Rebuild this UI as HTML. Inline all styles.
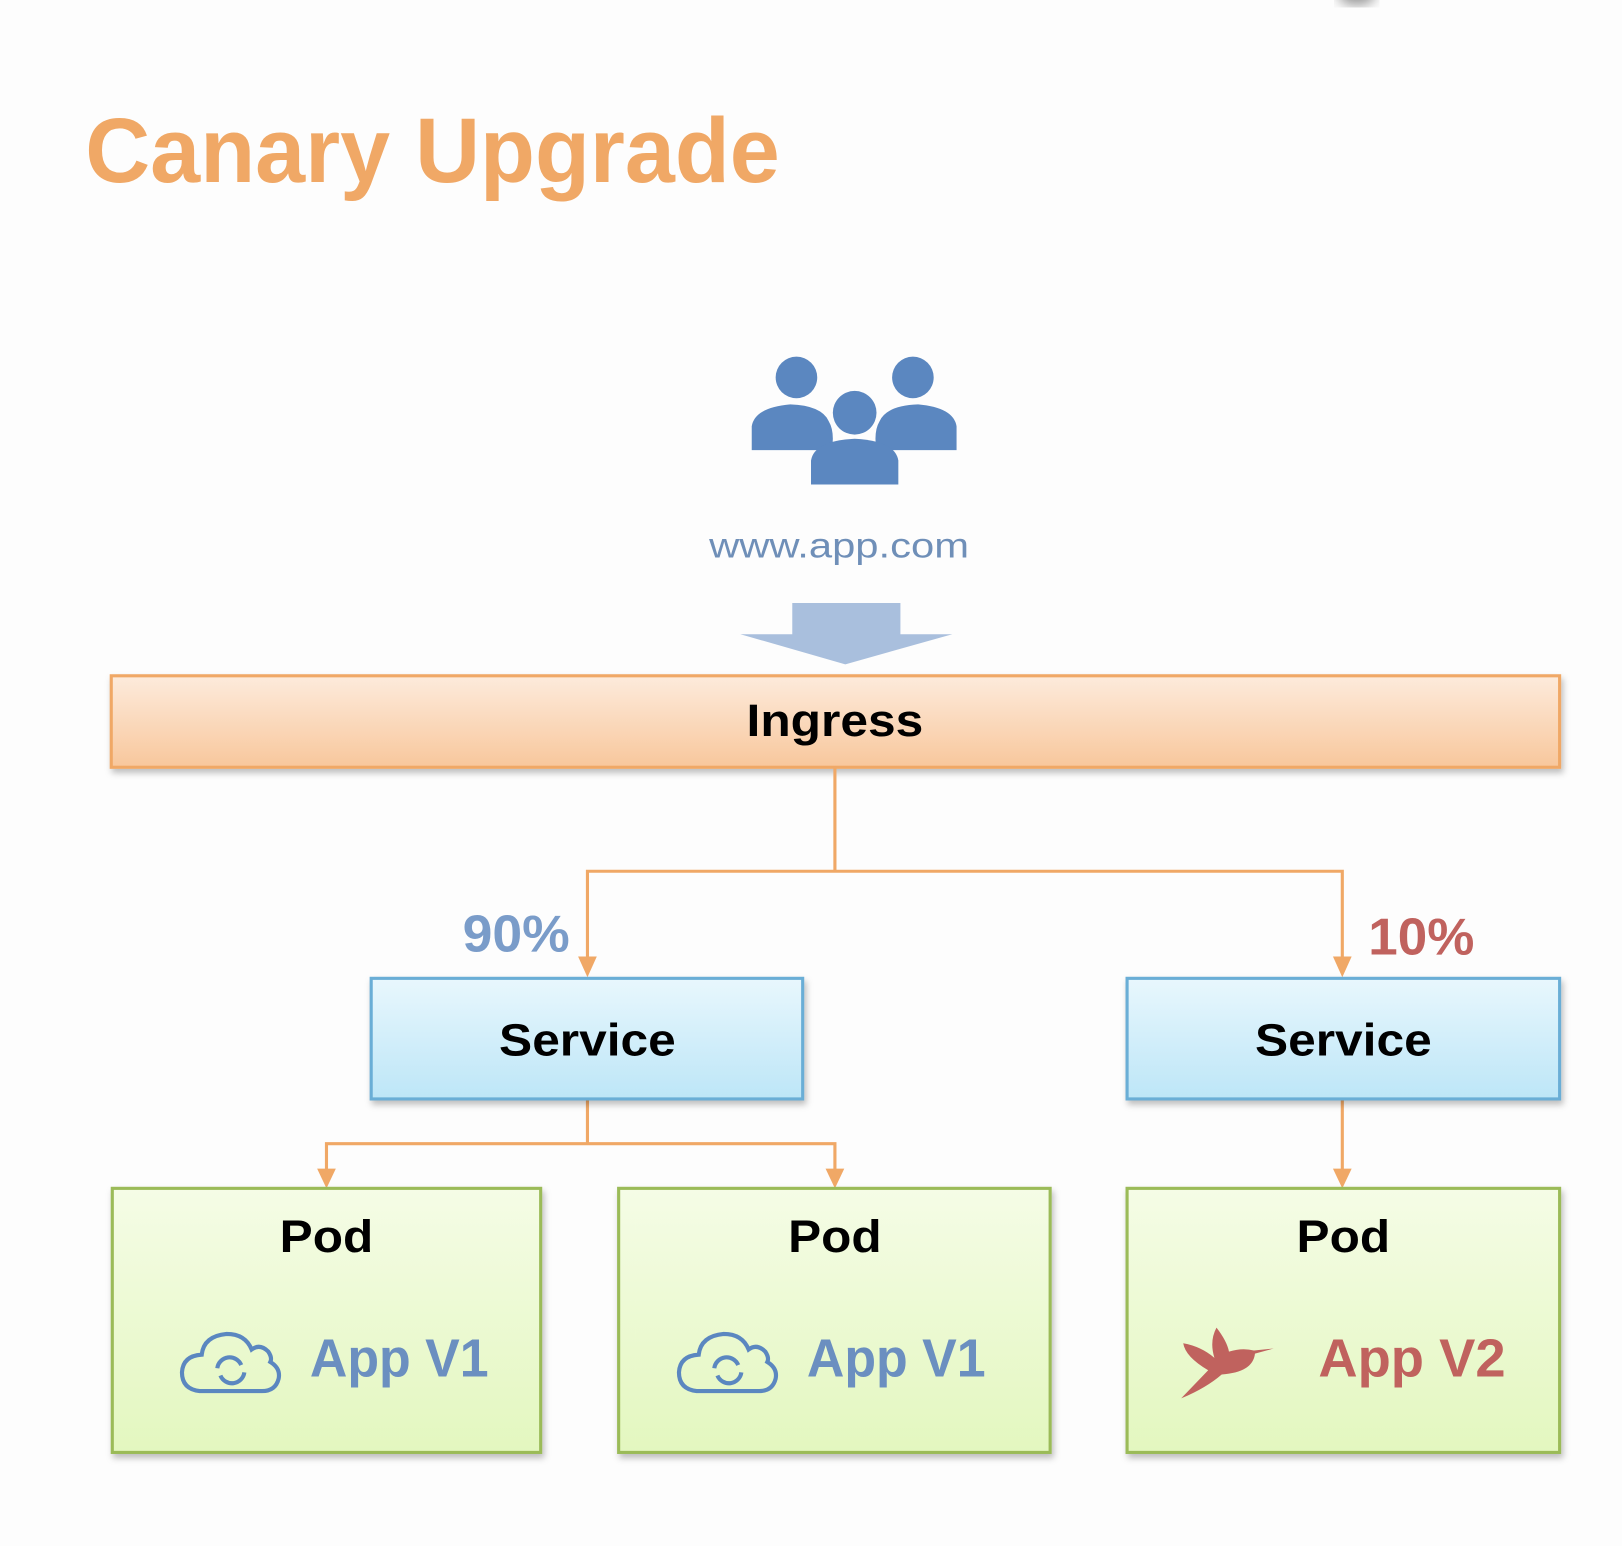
<!DOCTYPE html>
<html><head><meta charset="utf-8"><style>
html,body{margin:0;padding:0;background:#fdfdfd;}
svg{display:block;}
text{font-family:"Liberation Sans",sans-serif;}
</style></head><body>
<svg width="1622" height="1546" viewBox="0 0 1560 1487" preserveAspectRatio="none" xmlns="http://www.w3.org/2000/svg">
<defs>
<linearGradient id="gO" x1="0" y1="0" x2="0" y2="1"><stop offset="0" stop-color="#fdebdc"/><stop offset="1" stop-color="#f8c79c"/></linearGradient>
<linearGradient id="gB" x1="0" y1="0" x2="0" y2="1"><stop offset="0" stop-color="#e8f7fd"/><stop offset="1" stop-color="#bde6f7"/></linearGradient>
<linearGradient id="gG" x1="0" y1="0" x2="0" y2="1"><stop offset="0" stop-color="#f5fce6"/><stop offset="1" stop-color="#e3f7bf"/></linearGradient>
<filter id="sh" x="-5%" y="-10%" width="110%" height="130%"><feDropShadow dx="2" dy="4" stdDeviation="3" flood-color="#000" flood-opacity="0.25"/></filter>
<filter id="bl"><feGaussianBlur stdDeviation="6"/></filter>
</defs>
<rect width="1560" height="1487" fill="#fdfdfd"/>
<ellipse cx="1305" cy="-5" rx="18" ry="10" fill="#999" filter="url(#bl)"/>
<text x="82" y="175" font-size="88" font-weight="bold" fill="#f0a866" textLength="668" lengthAdjust="spacingAndGlyphs">Canary Upgrade</text>

<g fill="#5b87c0">
<circle cx="766" cy="363" r="20"/><circle cx="878" cy="363" r="20"/><circle cx="822" cy="397" r="21"/>
<path d="M723 433 V410 Q726 392 760 389 Q790 390 797 405 Q803 415 800 433 Z"/>
<path d="M920 433 V410 Q917 392 883 389 Q853 390 846 405 Q840 415 843 433 Z"/>
<path d="M780 466 V443 Q783 424 822 422 Q861 424 864 443 V466 Z" stroke="#fdfdfd" stroke-width="0"/>
</g>
<text x="807" y="536" font-size="34" fill="#6f8fb8" text-anchor="middle" textLength="250" lengthAdjust="spacingAndGlyphs">www.app.com</text>
<path d="M762 580 H866 V610 H916 L813 639 L712 610 H762 Z" fill="#a9bfdd"/>

<rect x="107" y="650" width="1393" height="88" fill="url(#gO)" stroke="#f0a866" stroke-width="3" filter="url(#sh)"/>
<text x="803" y="708" font-size="44" font-weight="bold" fill="#000" text-anchor="middle" textLength="170" lengthAdjust="spacingAndGlyphs">Ingress</text>

<g stroke="#f0a866" stroke-width="3" fill="none">
<path d="M803 738 V838 M565 930 V838 H1291 V930"/>
<path d="M565 1057 V1100 M314 1133 V1100 H803 V1133"/>
<path d="M1291 1057 V1133"/>
</g>
<g fill="#f0a866">
<path d="M556 920 L574 920 L565 940 Z"/><path d="M1282 920 L1300 920 L1291 940 Z"/>
<path d="M305 1124 L323 1124 L314 1143 Z"/><path d="M794 1124 L812 1124 L803 1143 Z"/><path d="M1282 1124 L1300 1124 L1291 1143 Z"/>
</g>
<text x="445" y="915" font-size="50" font-weight="bold" fill="#7a9cc9" textLength="103" lengthAdjust="spacingAndGlyphs">90%</text>
<text x="1316" y="918" font-size="50" font-weight="bold" fill="#c0625e" textLength="102" lengthAdjust="spacingAndGlyphs">10%</text>

<rect x="357" y="941" width="415" height="116" fill="url(#gB)" stroke="#6aaed6" stroke-width="3" filter="url(#sh)"/>
<rect x="1084" y="941" width="416" height="116" fill="url(#gB)" stroke="#6aaed6" stroke-width="3" filter="url(#sh)"/>
<text x="565" y="1015" font-size="44" font-weight="bold" text-anchor="middle" textLength="170" lengthAdjust="spacingAndGlyphs">Service</text>
<text x="1292" y="1015" font-size="44" font-weight="bold" text-anchor="middle" textLength="170" lengthAdjust="spacingAndGlyphs">Service</text>

<rect x="108" y="1143" width="412" height="254" fill="url(#gG)" stroke="#9bbb59" stroke-width="3" filter="url(#sh)"/>
<rect x="595" y="1143" width="415" height="254" fill="url(#gG)" stroke="#9bbb59" stroke-width="3" filter="url(#sh)"/>
<rect x="1084" y="1143" width="416" height="254" fill="url(#gG)" stroke="#9bbb59" stroke-width="3" filter="url(#sh)"/>
<text x="314" y="1204" font-size="44" font-weight="bold" text-anchor="middle" textLength="90" lengthAdjust="spacingAndGlyphs">Pod</text>
<text x="803" y="1204" font-size="44" font-weight="bold" text-anchor="middle" textLength="90" lengthAdjust="spacingAndGlyphs">Pod</text>
<text x="1292" y="1204" font-size="44" font-weight="bold" text-anchor="middle" textLength="90" lengthAdjust="spacingAndGlyphs">Pod</text>

<g id="cloud" fill="none" stroke="#5b87c0" stroke-width="4">
<path d="M192 1338 Q175 1336 175 1320 Q176 1304 194 1303 Q196 1285 218 1283 Q236 1283 242 1298 Q250 1292 258 1300 Q262 1306 260 1310 Q270 1316 268 1326 Q265 1338 252 1338 Z"/>
<path d="M209 1316 A12 12 0 0 1 232 1313 M235 1320 A12 12 0 0 1 212 1323"/>
</g>
<use href="#cloud" x="478" y="0"/>
<text x="298" y="1324" font-size="52" font-weight="bold" fill="#6b8fc0" textLength="172" lengthAdjust="spacingAndGlyphs">App V1</text>
<text x="776" y="1324" font-size="52" font-weight="bold" fill="#6b8fc0" textLength="172" lengthAdjust="spacingAndGlyphs">App V1</text>

<path d="M1136 1345 L1162 1318 Q1140 1305 1138 1292 Q1155 1295 1168 1306 Q1163 1290 1170 1277 Q1180 1290 1182 1300 Q1195 1296 1206 1299 L1225 1297 L1207 1302 Q1205 1320 1175 1322 Q1160 1335 1136 1345 Z" fill="#c0625e"/>
<text x="1268" y="1324" font-size="52" font-weight="bold" fill="#c0625e" textLength="180" lengthAdjust="spacingAndGlyphs">App V2</text>
</svg>
</body></html>
